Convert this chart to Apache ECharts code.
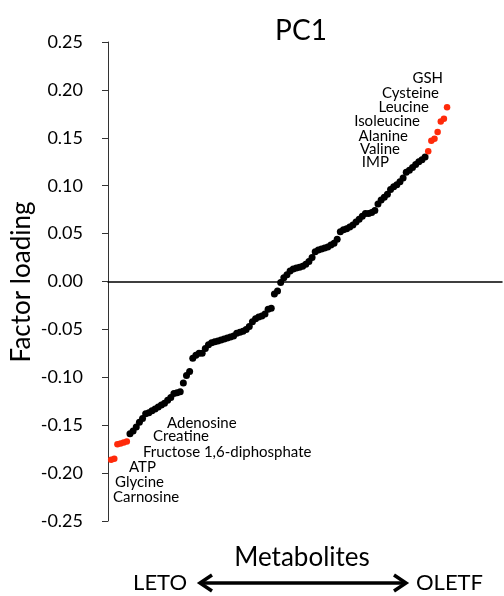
<!DOCTYPE html>
<html>
<head>
<meta charset="utf-8">
<script src="https://cdn.jsdelivr.net/npm/echarts@6/dist/echarts.min.js"></script>
<style>
html,body{margin:0;padding:0;background:#fff;}
#c{width:504px;height:596px;}
</style>
</head>
<body>
<div id="c"></div>
<script>
// Factor loadings of metabolites on PC1, sorted ascending (rank order)
var loadings = [
  -0.186, -0.185, -0.170, -0.169, -0.168, -0.167,
  -0.159, -0.156, -0.152, -0.147, -0.143, -0.138, -0.137, -0.135, -0.133, -0.131,
  -0.129, -0.127, -0.124, -0.121, -0.117, -0.116, -0.115, -0.106, -0.098, -0.094,
  -0.080, -0.077, -0.075, -0.075, -0.070, -0.066, -0.064, -0.063, -0.062, -0.061,
  -0.060, -0.059, -0.058, -0.057, -0.054, -0.053, -0.052, -0.050, -0.047, -0.042,
  -0.039, -0.037, -0.036, -0.034, -0.029, -0.028, -0.013, -0.010, -0.001, 0.004,
  0.007, 0.011, 0.013, 0.014, 0.015, 0.016, 0.018, 0.021, 0.025, 0.031,
  0.033, 0.034, 0.035, 0.036, 0.038, 0.040, 0.044, 0.052, 0.054, 0.055,
  0.057, 0.059, 0.062, 0.065, 0.068, 0.071, 0.071, 0.072, 0.074, 0.081,
  0.085, 0.088, 0.091, 0.096, 0.099, 0.101, 0.104, 0.108, 0.114, 0.116,
  0.119, 0.122, 0.125, 0.127, 0.130,
  0.136, 0.147, 0.149, 0.156, 0.167, 0.170, 0.182
];
var redLowCount = 6;   // LETO-side highlighted metabolites
var redHighCount = 7;  // OLETF-side highlighted metabolites
var lowLabels = ["Adenosine", "Creatine", "Fructose 1,6-diphosphate", "ATP", "Glycine", "Carnosine"];
var highLabels = ["GSH", "Cysteine", "Leucine", "Isoleucine", "Alanine", "Valine", "IMP"];
var yTicks = [-0.25, -0.20, -0.15, -0.10, -0.05, 0.00, 0.05, 0.10, 0.15, 0.20, 0.25];

var FONT = "Lato";
var blackPts = [], redPts = [];
var n = loadings.length;
loadings.forEach(function (v, i) {
  if (i < redLowCount || i >= n - redHighCount) redPts.push([i, v]);
  else blackPts.push([i, v]);
});

var chart = echarts.init(document.getElementById('c'), null, {renderer: 'canvas'});

// annotation text positions (pixel layout)
var lowPos = [[167, 423], [153, 436], [143, 452], [129, 467], [115, 482], [113, 497]];
var highPos = [[443, 78], [439, 93], [429, 107], [420, 121], [408, 136], [400, 149], [389, 162]];
var graphics = [];
lowLabels.forEach(function (t, k) {
  graphics.push({type: 'text', x: lowPos[k][0], y: lowPos[k][1],
    style: {text: t, font: '15px ' + FONT, fill: '#000', textAlign: 'left', textVerticalAlign: 'middle'}});
});
highLabels.forEach(function (t, k) {
  graphics.push({type: 'text', x: highPos[k][0], y: highPos[k][1],
    style: {text: t, font: '15px ' + FONT, fill: '#000', textAlign: 'right', textVerticalAlign: 'middle'}});
});
graphics.push({type: 'text', x: 22, y: 282, rotation: Math.PI / 2,
  style: {text: 'Factor loading', font: '26px ' + FONT, fill: '#000', textAlign: 'center', textVerticalAlign: 'middle'}});
graphics.push({type: 'text', x: 302, y: 558,
  style: {text: 'Metabolites', font: '26px ' + FONT, fill: '#000', textAlign: 'center', textVerticalAlign: 'middle'}});
graphics.push({type: 'text', x: 187, y: 583,
  style: {text: 'LETO', font: '22px ' + FONT, fill: '#000', textAlign: 'right', textVerticalAlign: 'middle'}});
graphics.push({type: 'text', x: 416, y: 583,
  style: {text: 'OLETF', font: '22px ' + FONT, fill: '#000', textAlign: 'left', textVerticalAlign: 'middle'}});
// double-headed arrow
graphics.push({type: 'line', shape: {x1: 201, y1: 583, x2: 405, y2: 583}, style: {stroke: '#000', lineWidth: 3.5}});
graphics.push({type: 'polyline', shape: {points: [[212, 575], [200, 583], [212, 591]]}, style: {stroke: '#000', lineWidth: 3.5, fill: null}});
graphics.push({type: 'polyline', shape: {points: [[394, 575], [406, 583], [394, 591]]}, style: {stroke: '#000', lineWidth: 3.5, fill: null}});

chart.setOption({
  animation: false,
  backgroundColor: '#fff',
  title: {text: 'PC1', left: 296, top: 12, textAlign: 'center',
    textStyle: {fontFamily: FONT, fontSize: 28, fontWeight: 'normal', color: '#000'}},
  grid: {left: 108, right: 2, top: 42, bottom: 75},
  xAxis: {
    type: 'value', min: -1, max: 124.5,
    axisLine: {show: true, onZero: true, lineStyle: {color: '#000', width: 1.5}},
    axisTick: {show: false}, axisLabel: {show: false}, splitLine: {show: false}
  },
  yAxis: {
    type: 'value', min: yTicks[0], max: yTicks[yTicks.length - 1], interval: 0.05,
    axisLine: {show: true, onZero: false, lineStyle: {color: '#333', width: 1}},
    axisTick: {show: true, inside: false, length: 6, lineStyle: {color: '#333'}},
    axisLabel: {margin: 25, fontFamily: FONT, fontSize: 18, color: '#000',
      formatter: function (v) { return Math.abs(v) < 1e-9 ? '0.00' : v.toFixed(2); }},
    splitLine: {show: false}
  },
  series: [
    {type: 'scatter', data: blackPts, symbolSize: 7, itemStyle: {color: '#000', opacity: 1}},
    {type: 'scatter', data: redPts, symbolSize: 6.5, itemStyle: {color: '#ff2a0a', opacity: 1}}
  ],
  graphic: graphics
});
</script>
</body>
</html>
